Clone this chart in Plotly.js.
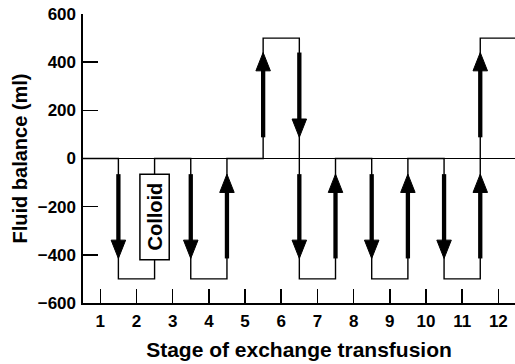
<!DOCTYPE html>
<html>
<head>
<meta charset="utf-8">
<script src="https://cdn.plot.ly/plotly-3.0.1.min.js"></script>
<style>html,body{margin:0;padding:0;background:#fff}#chart{width:515px;height:364px}</style>
</head>
<body>
<div id="chart"></div>
<script>
// ---- data ----
const stageTicks = [1, 2, 3, 4, 5, 6, 7, 8, 9, 10, 11, 12];
const stepBoundaries = [1.5, 2.5, 3.5, 4.5, 5.5, 6.5, 7.5, 8.5, 9.5, 10.5, 11.5];
const balanceLevels = [0, -500, 0, -500, 0, 500, -500, 0, -500, 0, -500, 500];
const arrowStage = [1.5, 3.5, 4.5, 5.5, 6.5, 6.5, 7.5, 8.5, 9.5, 10.5, 11.5, 11.5];
const arrowTail  = [-65, -65, -415, 88, 440, -65, -415, -65, -415, -65, -415, 88];
const arrowTip   = [-415, -415, -65, 440, 88, -415, -65, -415, -65, -415, -65, 440];
const colloidStage = 2.5;
const colloidRange = [-420, -65];
const yTicks = [-600, -400, -200, 0, 200, 400, 600];

// ---- layout constants ----
const xRange = [0.522, 12.46];
const yRange = [-600, 600];
const headLen = 76;      // data units (y)
const headHalf = 0.2;    // data units (x)
const boxHalf = 0.405;

const traces = [];
// step line
const stepX = [xRange[0]].concat(stepBoundaries, [xRange[1]]);
const stepY = balanceLevels.concat([balanceLevels[balanceLevels.length - 1]]);
traces.push({x: stepX, y: stepY, mode: 'lines', line: {shape: 'hv', color: '#000', width: 1.4},
  hoverinfo: 'skip', showlegend: false});

// arrow shafts
const shX = [], shY = [];
arrowStage.forEach((s, i) => {
  const dir = Math.sign(arrowTip[i] - arrowTail[i]);
  shX.push(s, s, null);
  shY.push(arrowTail[i], arrowTip[i] - dir * (headLen - 6), null);
});
traces.push({x: shX, y: shY, mode: 'lines', line: {color: '#000', width: 4.3},
  hoverinfo: 'skip', showlegend: false});

// arrow heads
arrowStage.forEach((s, i) => {
  const dir = Math.sign(arrowTip[i] - arrowTail[i]);
  const base = arrowTip[i] - dir * headLen;
  traces.push({x: [s - headHalf, s + headHalf, s, s - headHalf], y: [base, base, arrowTip[i], base],
    mode: 'lines', fill: 'toself', fillcolor: '#000', line: {color: '#000', width: 1},
    hoverinfo: 'skip', showlegend: false});
});

const fontFam = 'Liberation Sans, Arial, Helvetica, sans-serif';
const layout = {
  width: 515, height: 364,
  margin: {l: 83, r: 0, t: 14, b: 61, pad: 0},
  paper_bgcolor: '#fff', plot_bgcolor: '#fff',
  showlegend: false,
  font: {family: fontFam, color: '#000'},
  xaxis: {
    range: xRange, tickvals: stageTicks, ticktext: stageTicks.map(String),
    ticks: 'inside', ticklen: 14, tickwidth: 1.6, tickcolor: '#000',
    showline: true, linecolor: '#000', linewidth: 1.6, showgrid: false, zeroline: false,
    tickfont: {size: 17, weight: 'bold', family: fontFam},
    ticklabelstandoff: 2,
    title: {text: 'Stage of exchange transfusion', font: {size: 21, weight: 'bold', family: fontFam}, standoff: 12}
  },
  yaxis: {
    range: yRange, tickvals: yTicks,
    ticks: 'inside', ticklen: 15, tickwidth: 1.6, tickcolor: '#000',
    showline: true, linecolor: '#000', linewidth: 1.6, showgrid: false,
    zeroline: true, zerolinecolor: '#000', zerolinewidth: 1.6,
    tickfont: {size: 17, weight: 'bold', family: fontFam},
    ticklabelstandoff: 2,
    title: {text: 'Fluid balance (ml)', font: {size: 20, weight: 'bold', family: fontFam}, standoff: 5}
  },
  shapes: [{type: 'rect', xref: 'x', yref: 'y', x0: colloidStage - boxHalf, x1: colloidStage + boxHalf,
    y0: colloidRange[0], y1: colloidRange[1], line: {color: '#000', width: 1.5}, fillcolor: '#fff', layer: 'above'}],
  annotations: [{xref: 'x', yref: 'y', x: colloidStage, y: (colloidRange[0] + colloidRange[1]) / 2,
    text: 'Colloid', textangle: -90, showarrow: false,
    font: {size: 20, weight: 'bold', family: fontFam, color: '#000'}}]
};

Plotly.newPlot('chart', traces, layout, {displayModeBar: false, staticPlot: true});
</script>
</body>
</html>
